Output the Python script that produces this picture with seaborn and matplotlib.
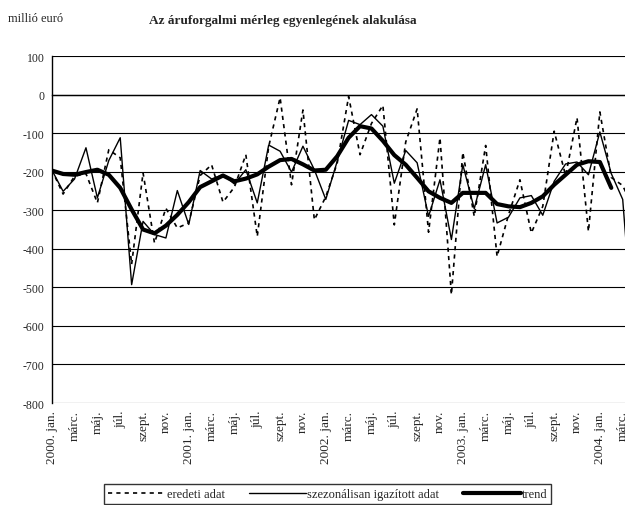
import matplotlib
matplotlib.use("Agg")
import matplotlib.pyplot as plt
import seaborn as sns
import numpy as np
import pandas as pd

# havi adatok, 2000. jan. - 2004. ápr. (millió euró)
eredeti = [-195, -258, -212, -205, -281, -143, -164, -440, -203, -385,
           -295, -346, -333, -210, -182, -279, -240, -156, -368, -135,
           -8, -234, -40, -325, -265, -178, -5, -156, -75, -28,
           -338, -123, -37, -357, -112, -519, -150, -316, -132, -420,
           -312, -221, -359, -290, -95, -210, -60, -355, -45, -215,
           -236, -300]
szezonalis = [-195, -251, -219, -138, -268, -171, -112, -493, -329, -363,
              -372, -249, -337, -197, -219, -208, -232, -195, -281, -131,
              -147, -201, -134, -195, -272, -173, -67, -78, -52, -82,
              -230, -145, -177, -316, -221, -376, -182, -296, -182, -333,
              -318, -268, -262, -313, -225, -180, -175, -208, -97, -205,
              -272, -650]
trend = [-197, -206, -208, -201, -195, -208, -242, -298, -350, -360,
         -340, -312, -279, -240, -225, -210, -225, -218, -207, -187,
         -170, -167, -181, -197, -195, -160, -112, -82, -88, -120,
         -157, -182, -216, -251, -268, -281, -255, -255, -255, -284,
         -290, -292, -281, -264, -234, -208, -182, -173, -175, -242,
         np.nan, np.nan]

honapok = ["jan.", "márc.", "máj.", "júl.", "szept.", "nov."]
evek = [2000, 2001, 2002, 2003, 2004]

tick_labels = []
for ev in evek:
    for h in honapok:
        tick_labels.append(f"{ev}. {h}" if h == "jan." else h)
tick_labels = tick_labels[:26]

df = pd.DataFrame({
    "honap": np.arange(len(eredeti)),
    "eredeti": eredeti,
    "szezonalis": szezonalis,
    "trend": trend,
})

sns.set_style("white")
plt.rcParams["font.family"] = ["Liberation Serif", "DejaVu Serif"]
plt.rcParams["axes.unicode_minus"] = False

fig = plt.figure(figsize=(6.25, 5.06), dpi=100)
ax = fig.add_axes([51.7 / 625, 1 - 404 / 506, 1 - 51.7 / 625, (404 - 57) / 506])

sns.lineplot(data=df, x="honap", y="eredeti", ax=ax, color="black",
             linewidth=1.2, linestyle=(0, (2.5, 2.5)), label="eredeti adat")
sns.lineplot(data=df, x="honap", y="szezonalis", ax=ax, color="black",
             linewidth=1.0, label="szezonálisan igazított adat")
sns.lineplot(data=df, x="honap", y="trend", ax=ax, color="black",
             linewidth=3.0, label="trend")

ax.set_yticks(range(-800, 101, 100))
ax.yaxis.grid(True, color="black", linewidth=0.8)
ax.set_axisbelow(True)
ax.tick_params(axis="y", labelsize=8.5, length=3, direction="out", pad=2)
ax.set_xlabel("")
ax.set_ylabel("")

for s in ["top", "right"]:
    ax.spines[s].set_visible(False)
ax.spines["left"].set_color("black")
ax.spines["left"].set_linewidth(1.0)
ax.spines["bottom"].set_position(("data", 0))
ax.spines["bottom"].set_color("black")
ax.spines["bottom"].set_linewidth(1.0)
ax.set_xticks(range(0, len(eredeti)))
ax.tick_params(axis="x", length=3, direction="out", labelbottom=False, color="black")

ax.set_xlim(0, (625 - 51.7) / 11.42)
ax.set_ylim(-800, 100)

sec = ax.secondary_xaxis(0.0)
sec.set_xticks(range(0, 52, 2), tick_labels, rotation=90, fontsize=9.5)
sec.tick_params(length=0, pad=5)
sec.spines["bottom"].set_visible(False)

handles, labels = ax.get_legend_handles_labels()
ax.get_legend().remove()
fig.legend(handles, labels, loc="upper left", bbox_to_anchor=(98 / 625, 1 - 479 / 506),
           ncol=3, frameon=True, fancybox=False, edgecolor="black", fontsize=9,
           handlelength=4.6, handletextpad=0.1, columnspacing=1.9, borderpad=0.3)

fig.text(0.453, 0.958, "Az áruforgalmi mérleg egyenlegének alakulása",
         ha="center", va="center", fontsize=9.6, fontweight="bold")
fig.text(0.013, 0.962, "millió euró", ha="left", va="center", fontsize=9)

fig.savefig("out.png", dpi=100)
